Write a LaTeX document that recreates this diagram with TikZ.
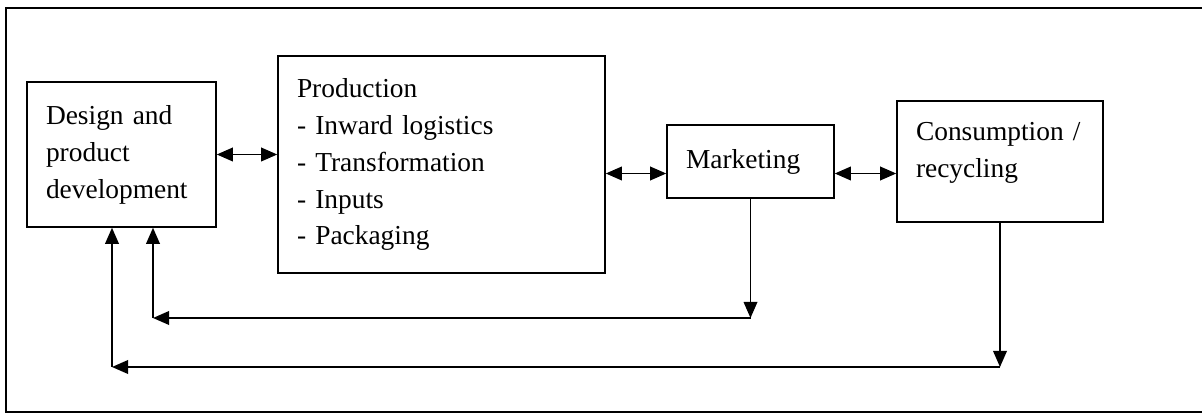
\documentclass[tikz,border=0pt]{standalone}
\usepackage{fontspec}
\setmainfont{Liberation Serif}
\usetikzlibrary{arrows.meta}
\begin{document}
\begin{tikzpicture}
\tikzstyle{stage}=[rectangle,draw,line width=1.1pt,align=left,inner xsep=0.475cm,inner ysep=0pt,font=\fontsize{19.5}{26.3}\selectfont]
\tikzstyle{flow}=[line width=1.1pt,-{Triangle[length=0.4cm,width=0.34cm]}]
\tikzstyle{twoway}=[line width=1.1pt,{Triangle[length=0.4cm,width=0.34cm]}-{Triangle[length=0.4cm,width=0.34cm]}]
\useasboundingbox (0,0) rectangle (30.05,-10.375);
\draw[line width=0.8pt] (30.2,-0.2) -- (0.15,-0.2) -- (0.15,-10.3) -- (30.2,-10.3);
\node[stage,text width=3.775cm,minimum height=3.625cm] (design) at (3.0375,-3.8625) {Design and\\product\\development};
\node[stage,text width=7.225cm,minimum height=5.425cm] (prod) at (11.0375,-4.1125) {Production\\- Inward logistics\\- Transformation\\- Inputs\\- Packaging};
\node[stage,text width=3.225cm,minimum height=1.825cm] (mark) at (18.7625,-4.0375) {Marketing};
\node[stage,text width=4.2cm,minimum height=3.025cm,text depth=1.5cm] (cons) at (25,-4.0375) {Consumption /\\recycling};
\draw[twoway] (design.east) -- (design.east -| prod.west);
\draw[twoway] ([yshift=-0.3cm]mark.west -| prod.east) -- ([yshift=-0.3cm]mark.west);
\draw[twoway] ([yshift=-0.3cm]mark.east) -- ([yshift=-0.3cm]mark.east -| cons.west);
% feedback loops
\coordinate (m1) at (mark.south |- 0,-7.95);
\coordinate (m2) at (3.825,-7.95);
\draw[flow] (mark.south) -- (m1);
\draw[flow] (m1) -- (m2);
\draw[flow] (m2) -- (m2 |- design.south);
\coordinate (c1) at (cons.south |- 0,-9.175);
\coordinate (c2) at (2.8,-9.175);
\draw[flow] (cons.south) -- (c1);
\draw[flow] (c1) -- (c2);
\draw[flow] (c2) -- (c2 |- design.south);
\end{tikzpicture}
\end{document}
